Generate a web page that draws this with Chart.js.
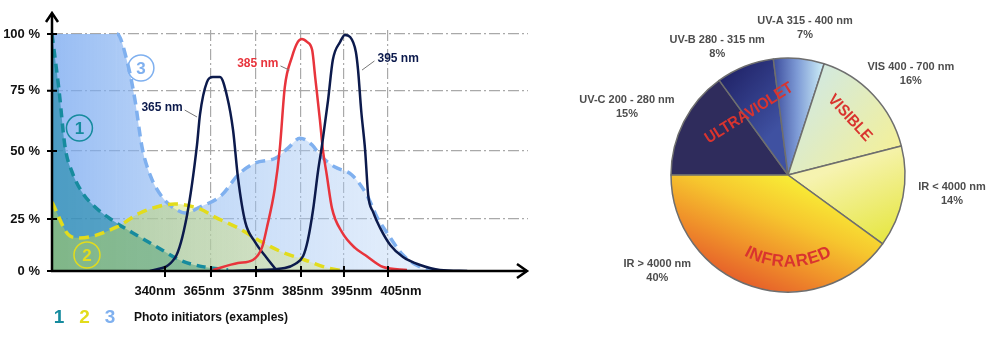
<!DOCTYPE html>
<html>
<head>
<meta charset="utf-8">
<title>UV curing spectrum</title>
<script src="https://cdn.jsdelivr.net/npm/chart.js@4.4.1/dist/chart.umd.min.js"></script>
<style>
  html, body { margin: 0; padding: 0; background: #fff; }
  body { position: relative; width: 1000px; height: 338px; overflow: hidden; }
  canvas { position: absolute; top: 0; }
  #spectrum { left: 0; }
  #bands { left: 545px; }
</style>
</head>
<body>
<canvas id="spectrum" width="545" height="338"></canvas>
<canvas id="bands" width="455" height="338"></canvas>
<script>
const FONT = '"Liberation Sans", Arial, sans-serif';

/* ---------- left chart: absorption / emission ---------- */
const nmTicks = [340, 365, 375, 385, 395, 405];
const pctTicks = [0, 25, 50, 75, 100];

// photo initiators, [nm, %]
const init1 = [[278.6,100],[282.4,75.3],[285.7,51.7],[289.5,42.3],[294.9,34.9],[302.0,29.4],[311.2,24.5],
  [326.4,16.3],[338.4,10.1],[349.2,4.8],[361.7,1.9],[368.8,0.5]];
const init2 = [[278.6,31.2],[288.4,16.8],[293.8,15.9],[313.9,21.2],[326.4,27.2],[345.4,30.5],[359.0,28.7],
  [365.9,25.7],[371.0,20.7],[376.3,13.9],[380.8,9.1],[385.9,5.3],[391.3,1.4],[395.2,0]];
const init3 = [[278.6,100],[313.9,100],[319.9,86.3],[323.7,71.1],[327.5,51.7],[331.9,41.2],[338.9,32.7],
  [346.5,28.3],[350.9,27.2],[359.0,29.4],[367.4,33.8],[371.0,41.2],[374.8,45.6],[379.4,47.4],[382.1,51.2],
  [384.8,55.3],[387.6,52.5],[389.4,48.5],[392.9,44.1],[396.8,41.2],[400.2,33.8],[402.5,25.7],[404.8,18.3],
  [408.4,7.7],[412.3,1.9],[415.2,0]];

// LED emission, [nm, %]
const led365 = [[331.9,0],[345.4,6.3],[352.0,26.5],[357.4,52.5],[359.0,65.0],[362.8,78.8],[365.4,81.0],
  [367.0,81.0],[368.6,72.4],[369.9,58.7],[371.0,40.1],[372.6,23.6],[374.8,13.9],[377.4,6.3],[379.7,0]];
const led385 = [[365.4,0.5],[371.0,3.8],[374.3,5.3],[376.3,11.1],[377.4,20.7],[379.2,36.4],[380.3,51.2],
  [381.4,76.6],[383.0,89.9],[384.3,96.5],[385.2,97.8],[386.4,96.5],[387.6,92.9],[388.3,81.0],[389.4,62.9],
  [390.1,50.4],[391.0,41.2],[392.2,29.0],[394.5,18.8],[397.5,11.1],[399.8,7.7],[403.9,1.9],[409.3,0.5]];
const led395 = [[368.8,0],[375.9,0.5],[381.4,1.4],[383.7,3.4],[385.5,7.2],[386.6,14.9],[387.8,28.3],
  [389.0,43.0],[389.9,52.5],[391.3,71.1],[392.4,88.5],[394.1,96.5],[395.2,99.6],[396.4,98.7],[397.7,92.1],
  [398.2,84.1],[398.9,67.0],[399.8,50.4],[400.5,33.8],[401.6,27.6],[403.2,20.7],[405.5,12.5],[408.4,6.7],
  [412.3,2.9],[416.8,0.5],[423.0,0]];

/* ---------- right chart: share of the spectrum ---------- */
const bandNames = ['UV-C 200 - 280 nm', 'UV-B 280 - 315 nm', 'UV-A 315 - 400 nm',
  'VIS 400 - 700 nm', 'IR < 4000 nm', 'IR > 4000 nm'];
const bandShares = [15, 8, 7, 16, 14, 40];

/* ---------- colours ---------- */
const TEAL = '#168b9e', YELLOW = '#e2dc1c', SKY = '#7fb0ef', NAVY = '#0c1a4c', RED = '#e8343c';

// the axes of this drawing are not evenly spaced: [value, fraction of axis length]
const axisStops = {
  x: [[278.6,0],[340,0.2374],[365,0.3340],[375,0.4286],[385,0.5231],[395,0.6134],[405,0.7059],[436.8,1]],
  y: [[0,0],[25,0.2158],[50,0.4979],[75,0.7481],[100,0.9834],[101.7,1]]
};

class WarpedScale extends Chart.LinearScale {
  static id = 'warped';
  static defaults = {};
  getPixelForValue(value) {
    if (value === null || value === undefined || isNaN(value)) return NaN;
    const s = axisStops[this.id];
    let i = 1;
    while (i < s.length - 1 && value > s[i][0]) i++;
    const [v0, f0] = s[i - 1], [v1, f1] = s[i];
    return this.getPixelForDecimal(f0 + (value - v0) / (v1 - v0) * (f1 - f0));
  }
  getValueForPixel(pixel) {
    const d = this.getDecimalForPixel(pixel), s = axisStops[this.id];
    let i = 1;
    while (i < s.length - 1 && d > s[i][1]) i++;
    const [v0, f0] = s[i - 1], [v1, f1] = s[i];
    return v0 + (d - f0) / (f1 - f0) * (v1 - v0);
  }
}
Chart.register(WarpedScale);

Chart.defaults.font.family = FONT;
Chart.defaults.animation = false;

const asPoints = rows => rows.map(([x, y]) => ({ x, y }));
const curve = (rows, opts) => Object.assign({
  data: asPoints(rows), pointRadius: 0, cubicInterpolationMode: 'monotone',
  fill: false, borderCapStyle: 'butt'
}, opts);

// horizontal gradient across the plot area
const sweep = stops => c => {
  const a = c.chart.chartArea;
  if (!a) return stops[0][1];
  const g = c.chart.ctx.createLinearGradient(a.left, 0, a.right, 0);
  stops.forEach(([o, col]) => g.addColorStop(o, col));
  return g;
};

const circleMarks = [
  { label: '1', nm: 293.5, pct: 59.5, color: TEAL },
  { label: '2', nm: 297.6, pct: 7.7, color: YELLOW },
  { label: '3', nm: 326.9, pct: 85.0, color: SKY }
];
const ledNotes = [
  { text: '365 nm', color: NAVY, nm: 338.4, pct: 67.8, toNm: 357.4, toPct: 64.1 },
  { text: '385 nm', color: RED, nm: 375.4, pct: 86.8, toNm: 382.4, toPct: 84.1 },
  { text: '395 nm', color: NAVY, nm: 407.3, pct: 89.0, toNm: 399.1, toPct: 84.1 }
];

const spectrumDecor = {
  id: 'spectrumDecor',
  afterDatasetsDraw(chart) {
    const { ctx, chartArea: a, scales: { x, y } } = chart;
    const x0 = a.left, y0 = y.getPixelForValue(0);
    ctx.save();

    // axes with open arrow heads
    ctx.strokeStyle = '#000';
    ctx.lineWidth = 2.5;
    ctx.beginPath();
    ctx.moveTo(x0 - 1, y0); ctx.lineTo(a.right - 1, y0);
    ctx.moveTo(x0, y0 + 1); ctx.lineTo(x0, a.top - 16);
    ctx.stroke();
    ctx.beginPath();
    ctx.moveTo(a.right - 11, y0 - 7); ctx.lineTo(a.right - 1, y0); ctx.lineTo(a.right - 11, y0 + 7);
    ctx.moveTo(x0 - 6, a.top - 8); ctx.lineTo(x0, a.top - 17); ctx.lineTo(x0 + 6, a.top - 8);
    ctx.stroke();

    // tick marks
    ctx.lineWidth = 2;
    ctx.beginPath();
    pctTicks.forEach(v => { const py = y.getPixelForValue(v); ctx.moveTo(x0 - 5, py); ctx.lineTo(x0 + 5, py); });
    nmTicks.forEach(v => { const px = x.getPixelForValue(v); ctx.moveTo(px, y0 - 5); ctx.lineTo(px, y0 + 6); });
    ctx.stroke();

    // tick labels
    ctx.fillStyle = '#111';
    ctx.font = 'bold 13px ' + FONT;
    ctx.textBaseline = 'middle';
    ctx.textAlign = 'right';
    pctTicks.forEach(v => ctx.fillText(v + ' %', x0 - 12, y.getPixelForValue(v)));
    ctx.textAlign = 'center';
    const l0 = x.getPixelForValue(nmTicks[0]) - 10;
    const l1 = x.getPixelForValue(nmTicks[nmTicks.length - 1]) + 13;
    nmTicks.forEach((v, i) => ctx.fillText(v + 'nm', l0 + (l1 - l0) * i / (nmTicks.length - 1), y0 + 20));

    // LED captions with leader lines
    ctx.font = 'bold 12px ' + FONT;
    ledNotes.forEach(n => {
      const cx = x.getPixelForValue(n.nm), cy = y.getPixelForValue(n.pct);
      const tx = x.getPixelForValue(n.toNm), ty = y.getPixelForValue(n.toPct);
      const half = ctx.measureText(n.text).width / 2;
      ctx.fillStyle = n.color;
      ctx.fillText(n.text, cx, cy);
      ctx.strokeStyle = '#777';
      ctx.lineWidth = 1;
      ctx.beginPath();
      ctx.moveTo(tx > cx ? cx + half + 2 : cx - half - 3, cy + 2);
      ctx.lineTo(tx, ty);
      ctx.stroke();
    });

    // circled numbers
    circleMarks.forEach(m => {
      const cx = x.getPixelForValue(m.nm), cy = y.getPixelForValue(m.pct);
      ctx.strokeStyle = m.color;
      ctx.lineWidth = 1.5;
      ctx.beginPath();
      ctx.arc(cx, cy, 13, 0, Math.PI * 2);
      ctx.stroke();
      ctx.fillStyle = m.color;
      ctx.font = 'bold 17px ' + FONT;
      ctx.fillText(m.label, cx, cy + 1);
    });

    // legend row
    const ly = y0 + 47;
    ctx.font = 'bold 19px ' + FONT;
    circleMarks.forEach((m, i) => {
      ctx.fillStyle = m.color;
      ctx.fillText(m.label, x0 + 7 + i * 25.5, ly);
    });
    ctx.fillStyle = '#111';
    ctx.textAlign = 'left';
    ctx.font = 'bold 12px ' + FONT;
    ctx.fillText('Photo initiators (examples)', x0 + 82, ly);
    ctx.restore();
  }
};

const gridLine = '#a9a9a9';
new Chart(document.getElementById('spectrum'), {
  type: 'line',
  data: {
    datasets: [
      curve(init3, { borderColor: SKY, borderWidth: 3.5, borderDash: [10, 6], order: 6, fill: 'origin',
        backgroundColor: sweep([[0, 'rgba(115,165,240,0.74)'], [0.35, 'rgba(150,190,242,0.56)'], [1, 'rgba(205,224,248,0.28)']]),
        segment: { borderColor: s => s.p0DataIndex === 0 ? 'rgba(0,0,0,0)' : undefined } }),
      curve(init1, { borderColor: TEAL, borderWidth: 3.5, borderDash: [9, 6], order: 5, fill: 'origin',
        backgroundColor: 'rgba(22,132,162,0.58)' }),
      curve(init2, { borderColor: YELLOW, borderWidth: 3.5, borderDash: [10, 6], order: 4, fill: 'origin',
        backgroundColor: sweep([[0, 'rgba(185,212,70,0.48)'], [0.6, 'rgba(222,228,110,0.32)'], [1, 'rgba(230,232,130,0.25)']]) }),
      curve(led365, { borderColor: NAVY, borderWidth: 2.5, order: 3 }),
      curve(led385, { borderColor: RED, borderWidth: 2.5, order: 2 }),
      curve(led395, { borderColor: NAVY, borderWidth: 2.5, order: 1 })
    ]
  },
  options: {
    responsive: false,
    layout: { padding: { left: 52, right: 17, top: 30, bottom: 67 } },
    scales: {
      x: {
        type: 'warped', min: 278.6, max: 436.8,
        afterBuildTicks: s => { s.ticks = nmTicks.map(v => ({ value: v })); },
        afterFit: s => { s.height = 0; },
        ticks: { display: false },
        border: { display: false, dash: [11, 3, 2, 3] },
        grid: { drawTicks: false, lineWidth: 1.2, color: c => c.tick && c.tick.value >= 365 ? gridLine : 'rgba(0,0,0,0)' }
      },
      y: {
        type: 'warped', min: 0, max: 101.7,
        afterBuildTicks: s => { s.ticks = pctTicks.map(v => ({ value: v })); },
        afterFit: s => { s.width = 0; },
        ticks: { display: false },
        border: { display: false, dash: [11, 3, 2, 3] },
        grid: { drawTicks: false, lineWidth: 1.2, color: c => c.tick && c.tick.value > 0 ? gridLine : 'rgba(0,0,0,0)' }
      }
    },
    plugins: {
      legend: { display: false },
      tooltip: { enabled: false },
      filler: { drawTime: 'beforeDatasetsDraw' }
    }
  },
  plugins: [spectrumDecor]
});

/* ---------- pie ---------- */
const PIE_R = 117;
// per slice: solid colour or linear gradient given in radius units from the centre
const sliceLook = [
  '#2f2c5c',
  { from: [-0.58, -0.81], to: [-0.11, -0.38], stops: [[0, '#22256a'], [1, '#3f51a1']] },
  { from: [-0.13, -0.9], to: [0.29, -0.9], stops: [[0, '#3b4b9b'], [0.5, '#7e9bd6'], [1, '#c8e9f5']] },
  { from: [0.1, -0.85], to: [0.91, -0.21], stops: [[0, '#cfe8e6'], [1, '#f3f09a']] },
  { from: [0.5, -0.1], to: [0.8, 0.6], stops: [[0, '#f6f3b0'], [1, '#e6e640']] },
  { from: [-0.41, 1.03], to: [0.02, 0.04], stops: [[0, '#e3502a'], [0.4, '#f0942a'], [0.7, '#f6c62e'], [1, '#f8ea36']] }
];
const sliceFill = c => {
  const spec = sliceLook[c.dataIndex];
  const a = c.chart.chartArea;
  if (typeof spec === 'string') return spec;
  if (!a) return spec.stops[0][1];
  const cx = (a.left + a.right) / 2, cy = (a.top + a.bottom) / 2;
  const g = c.chart.ctx.createLinearGradient(cx + spec.from[0] * PIE_R, cy + spec.from[1] * PIE_R,
    cx + spec.to[0] * PIE_R, cy + spec.to[1] * PIE_R);
  spec.stops.forEach(([o, col]) => g.addColorStop(o, col));
  return g;
};

// caption placement around the rim: angle nudge (deg) and gap beyond the rim (px)
const labelNudge = [-4, -7.4, 1.2, 3.8, -4.3, 35.8];
const labelGap = [58, 29, 31, 42, 48, 45];
// big band words painted on the pie: angle (deg), distance from centre, curved along the rim or not
const bandWords = [
  { text: 'ULTRAVIOLET', angle: 237.8, dist: 73, size: 16, curved: false },
  { text: 'VISIBLE', angle: 317.4, dist: 84, size: 16, curved: false },
  { text: 'INFRARED', angle: 90, dist: 87, size: 17, curved: true }
];

const bandDecor = {
  id: 'bandDecor',
  afterDatasetsDraw(chart) {
    const { ctx } = chart;
    const arcs = chart.getDatasetMeta(0).data;
    const cx = arcs[0].x, cy = arcs[0].y;
    ctx.save();
    ctx.textAlign = 'center';
    ctx.textBaseline = 'middle';

    ctx.fillStyle = '#4d4d4d';
    ctx.font = 'bold 11px ' + FONT;
    arcs.forEach((arc, i) => {
      const mid = (arc.startAngle + arc.endAngle) / 2 + labelNudge[i] * Math.PI / 180;
      const d = arc.outerRadius + labelGap[i];
      const lx = cx + Math.cos(mid) * d, ly = cy + Math.sin(mid) * d;
      ctx.fillText(bandNames[i], lx, ly - 7);
      ctx.fillText(bandShares[i] + '%', lx, ly + 7);
    });

    ctx.fillStyle = '#d9342f';
    bandWords.forEach(w => {
      const th = w.angle * Math.PI / 180;
      ctx.font = 'bold ' + w.size + 'px ' + FONT;
      if (!w.curved) {
        ctx.save();
        ctx.translate(cx + Math.cos(th) * w.dist, cy + Math.sin(th) * w.dist);
        ctx.rotate(th + Math.PI / 2);
        ctx.scale(0.92, 1);
        ctx.fillText(w.text, 0, 0);
        ctx.restore();
        return;
      }
      const chars = [...w.text];
      const widths = chars.map(ch => ctx.measureText(ch).width);
      const total = widths.reduce((s, v) => s + v, 0);
      let t = th + total / 2 / w.dist;
      chars.forEach((ch, i) => {
        const m = t - widths[i] / 2 / w.dist;
        ctx.save();
        ctx.translate(cx + Math.cos(m) * w.dist, cy + Math.sin(m) * w.dist);
        ctx.rotate(m - Math.PI / 2);
        ctx.fillText(ch, 0, 0);
        ctx.restore();
        t -= widths[i] / w.dist;
      });
    });
    ctx.restore();
  }
};

new Chart(document.getElementById('bands'), {
  type: 'pie',
  data: {
    labels: bandNames,
    datasets: [{ data: bandShares, backgroundColor: sliceFill, borderColor: '#6e6e6e', borderWidth: 1.5 }]
  },
  options: {
    responsive: false,
    rotation: -90,
    radius: PIE_R,
    layout: { padding: { left: 126, right: 95, top: 58, bottom: 46 } },
    plugins: { legend: { display: false }, tooltip: { enabled: false } }
  },
  plugins: [bandDecor]
});
</script>
</body>
</html>
